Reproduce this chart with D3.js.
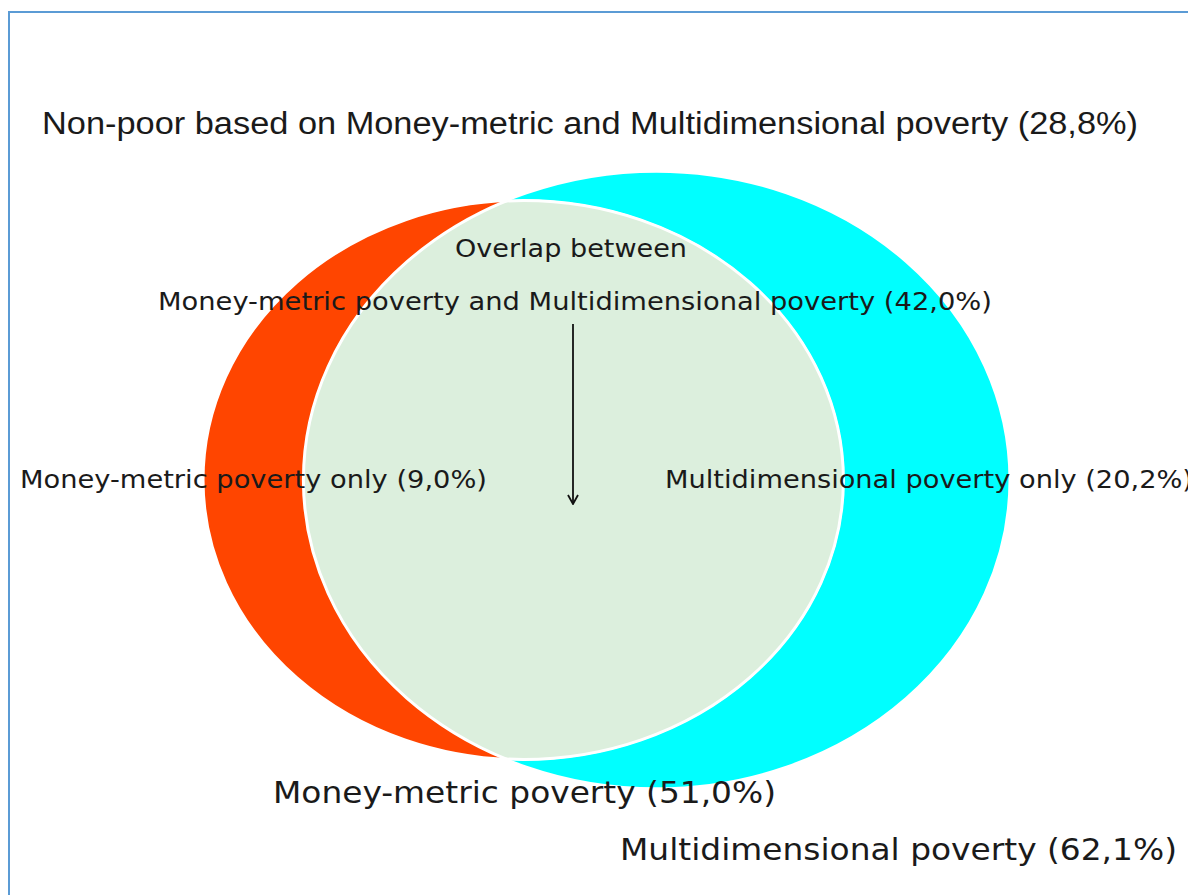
<!DOCTYPE html>
<html>
<head>
<meta charset="utf-8">
<script src="https://cdn.jsdelivr.net/npm/d3@7/dist/d3.min.js"></script>
<style>
  html, body { margin: 0; padding: 0; background: #ffffff; }
  svg { display: block; }
</style>
</head>
<body>
<svg id="chart" width="1188" height="895"></svg>
<script>
// Shares of the population (%)
const setNames = ["Money-metric poverty", "Multidimensional poverty"];
const setValues = [51.0, 62.1];
const overlapValue = 42.0;
const onlyValues = [9.0, 20.2];
const nonPoorValue = 28.8;
const setColors = ["#ff4500", "#00ffff"];
const overlapColor = "#dcefdd";

const W = 1188, H = 895;
const svg = d3.select("#chart");

// Decimal comma formatting
const locale = d3.formatLocale({ decimal: ",", thousands: ".", grouping: [3], currency: ["", ""] });
const fmt = locale.format(".1f");
const pct = v => `(${fmt(v)}%)`;

// Frame
svg.append("rect")
  .attr("x", 9).attr("y", 12)
  .attr("width", W + 20).attr("height", H + 20)
  .attr("fill", "none").attr("stroke", "#5b9bd5").attr("stroke-width", 2);

// Area-proportional ellipses: horizontal radius from sqrt scale, fixed aspect
const aspect = 1.145;
const rx = d3.scaleSqrt().domain([0, 100]).range([0, 448]);
const ry = v => rx(v) / aspect;

// Circle-circle intersection area (in the de-stretched space)
function lens(r1, r2, d) {
  if (d >= r1 + r2) return 0;
  if (d <= Math.abs(r1 - r2)) return Math.PI * Math.min(r1, r2) ** 2;
  const a = r1 * r1 * Math.acos((d * d + r1 * r1 - r2 * r2) / (2 * d * r1));
  const b = r2 * r2 * Math.acos((d * d + r2 * r2 - r1 * r1) / (2 * d * r2));
  const c = 0.5 * Math.sqrt((-d + r1 + r2) * (d + r1 - r2) * (d - r1 + r2) * (d + r1 + r2));
  return a + b - c;
}
const r1 = ry(setValues[0]), r2 = ry(setValues[1]);
const target = Math.PI * r1 * r1 * overlapValue / setValues[0];
let lo = Math.abs(r1 - r2), hi = r1 + r2;
for (let i = 0; i < 80; i++) {
  const mid = (lo + hi) / 2;
  if (lens(r1, r2, mid) > target) lo = mid; else hi = mid;
}
const dx = (lo + hi) / 2 * aspect;

// Place the pair so the union is centred on a given point
const unionMid = 606.5, cy = 480;
const left0 = -rx(setValues[0]);
const right0 = dx + rx(setValues[1]);
const shift = unionMid - (left0 + right0) / 2;
const sets = setValues.map((v, i) => ({
  name: setNames[i], value: v, color: setColors[i],
  cx: shift + (i === 0 ? 0 : dx), cy: cy, rx: rx(v), ry: ry(v)
}));

const defs = svg.append("defs");
sets.forEach((s, i) => {
  defs.append("clipPath").attr("id", "clip" + i)
    .append("ellipse")
    .attr("cx", s.cx).attr("cy", s.cy).attr("rx", s.rx).attr("ry", s.ry);
});

const g = svg.append("g");
// Red set drawn last among sets so its edge sits above cyan
g.selectAll("ellipse.set")
  .data([sets[1], sets[0]])
  .join("ellipse")
  .attr("class", "set")
  .attr("cx", d => d.cx).attr("cy", d => d.cy)
  .attr("rx", d => d.rx).attr("ry", d => d.ry)
  .attr("fill", d => d.color)
  .attr("stroke", "#ffffff").attr("stroke-width", 2);

// Overlap region
g.append("ellipse")
  .attr("clip-path", "url(#clip1)")
  .attr("cx", sets[0].cx).attr("cy", sets[0].cy)
  .attr("rx", sets[0].rx).attr("ry", sets[0].ry)
  .attr("fill", overlapColor)
  .attr("stroke", "#ffffff").attr("stroke-width", 3);
g.append("ellipse")
  .attr("clip-path", "url(#clip0)")
  .attr("cx", sets[1].cx).attr("cy", sets[1].cy)
  .attr("rx", sets[1].rx).attr("ry", sets[1].ry)
  .attr("fill", "none")
  .attr("stroke", "#ffffff").attr("stroke-width", 3);

// Arrow pointing into the overlap
defs.append("marker")
  .attr("id", "arrowhead")
  .attr("viewBox", "0 0 12 12").attr("refX", 11).attr("refY", 6)
  .attr("markerWidth", 12).attr("markerHeight", 12)
  .attr("markerUnits", "userSpaceOnUse")
  .attr("orient", "auto")
  .append("path")
  .attr("d", "M2,1 L11,6 L2,11")
  .attr("fill", "none").attr("stroke", "#111").attr("stroke-width", 1.8);
svg.append("line")
  .attr("x1", 573).attr("y1", 324).attr("x2", 573).attr("y2", 504)
  .attr("stroke", "#111").attr("stroke-width", 1.8)
  .attr("marker-end", "url(#arrowhead)");

// Labels
const sans = "'Liberation Sans', Arial, sans-serif";
const dejavu = "'DejaVu Sans', sans-serif";
const labels = [
  { text: `Non-poor based on Money-metric and Multidimensional poverty ${pct(nonPoorValue)}`, x: 42, y: 134, w: 1096, size: 31, font: sans },
  { text: "Overlap between", x: 455, y: 257, w: 232, size: 25, font: dejavu },
  { text: `${setNames[0]} and ${setNames[1]} ${pct(overlapValue)}`, x: 158, y: 310, w: 834, size: 25, font: dejavu },
  { text: `${setNames[0]} only ${pct(onlyValues[0])}`, x: 20, y: 488, w: 467, size: 25, font: dejavu },
  { text: `${setNames[1]} only ${pct(onlyValues[1])}`, x: 665, y: 488, w: 528, size: 25, font: dejavu },
  { text: `${setNames[0]} ${pct(setValues[0])}`, x: 273, y: 803, w: 503, size: 30, font: dejavu },
  { text: `${setNames[1]} ${pct(setValues[1])}`, x: 620, y: 860, w: 557, size: 30, font: dejavu }
];
svg.append("g").selectAll("text")
  .data(labels)
  .join("text")
  .attr("x", d => d.x).attr("y", d => d.y)
  .attr("textLength", d => d.w)
  .attr("lengthAdjust", "spacingAndGlyphs")
  .style("font-family", d => d.font)
  .style("font-size", d => d.size + "px")
  .attr("fill", "#1a1a1a")
  .text(d => d.text);
</script>
</body>
</html>
